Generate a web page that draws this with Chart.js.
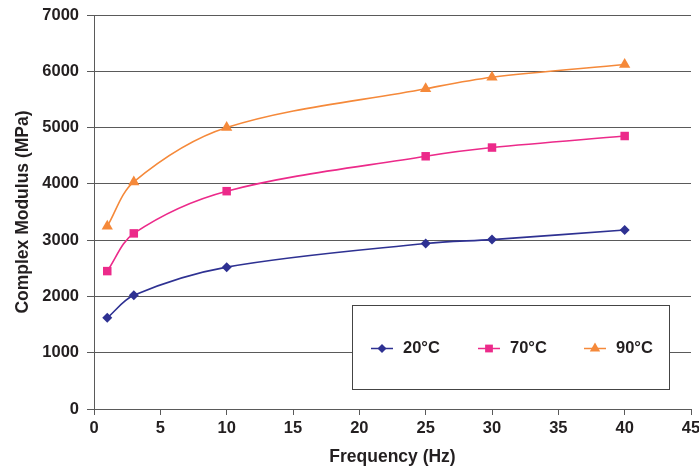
<!DOCTYPE html>
<html>
<head>
<meta charset="utf-8">
<script src="https://cdn.jsdelivr.net/npm/chart.js@4/dist/chart.umd.min.js"></script>
<style>
  html, body { margin: 0; padding: 0; background: #fff; }
  #wrap { width: 699px; height: 469px; }
</style>
</head>
<body>
<div id="wrap"><canvas id="c" width="699" height="469"></canvas></div>
<script>
// ---- data ----
const frequencies = [1, 3, 10, 25, 30, 40];
const modulus20 = [1620, 2020, 2520, 2940, 3010, 3180];
const modulus70 = [2450, 3120, 3870, 4490, 4645, 4850];
const modulus90 = [3245, 4035, 5000, 5690, 5895, 6120];
const seriesLabels = ['20°C', '70°C', '90°C'];
const xTicks = [0, 5, 10, 15, 20, 25, 30, 35, 40, 45];
const yTicks = [0, 1000, 2000, 3000, 4000, 5000, 6000, 7000];

const colors = ['#2e3192', '#ec2a8a', '#f5893a'];
const shapes = ['rectRot', 'rect', 'triangle'];
const radii = [5, 6, 6.5];
const FONT = '"Liberation Sans", Arial, Helvetica, sans-serif';
const TEXT = '#231f20';
const GRID = '#5a5a5a';

function pts(ys) { return frequencies.map((f, i) => ({ x: f, y: ys[i] })); }
const allSeries = [modulus20, modulus70, modulus90];

const datasets = allSeries.map((ys, i) => ({
  label: seriesLabels[i],
  data: pts(ys),
  borderColor: colors[i],
  backgroundColor: colors[i],
  borderWidth: 1.6,
  pointStyle: shapes[i],
  pointRadius: radii[i],
  pointHoverRadius: radii[i],
  pointBorderWidth: 0,
  tension: 0.33,
  fill: false
}));

const boxLegend = {
  id: 'boxLegend',
  afterDraw(chart) {
    const ctx = chart.ctx;
    const bx = 352.5, by = 305.5, bw = 317, bh = 84;
    ctx.save();
    ctx.fillStyle = '#fff';
    ctx.fillRect(bx, by, bw, bh);
    ctx.strokeStyle = '#444';
    ctx.lineWidth = 1;
    ctx.strokeRect(bx, by, bw, bh);
    const cy = by + bh / 2 + 1;
    const markerX = [382, 489, 595];
    chart.data.datasets.forEach((ds, i) => {
      const mx = markerX[i];
      ctx.strokeStyle = ds.borderColor;
      ctx.lineWidth = 1.5;
      ctx.beginPath();
      ctx.moveTo(mx - 11, cy);
      ctx.lineTo(mx + 11, cy);
      ctx.stroke();
      ctx.fillStyle = ds.backgroundColor;
      ctx.strokeStyle = ds.borderColor;
      Chart.helpers.drawPoint(ctx, { pointStyle: ds.pointStyle, radius: ds.pointRadius - 0.5, borderWidth: 0, rotation: 0 }, mx, cy);
      ctx.fillStyle = TEXT;
      ctx.font = 'bold 16.5px ' + FONT;
      ctx.textAlign = 'left';
      ctx.textBaseline = 'middle';
      ctx.fillText(ds.label, mx + 21, cy);
    });
    ctx.restore();
  }
};

new Chart(document.getElementById('c'), {
  type: 'line',
  data: { datasets },
  options: {
    responsive: false,
    animation: false,
    devicePixelRatio: 1,
    layout: { padding: { top: 15, right: 8, bottom: 0, left: 0 } },
    plugins: { legend: { display: false }, tooltip: { enabled: false } },
    scales: {
      x: {
        type: 'linear',
        min: 0, max: 45,
        afterBuildTicks(s) { s.ticks = xTicks.map(v => ({ value: v })); },
        afterFit(s) { s.height = 60; s.paddingLeft = 0; s.paddingRight = 0; },
        grid: { drawOnChartArea: false, drawTicks: true, tickLength: 6, color: GRID },
        border: { color: GRID, width: 1 },
        ticks: { color: TEXT, padding: 4, maxRotation: 0, font: { family: FONT, size: 16.5, weight: 'bold' }, callback: v => String(v) },
        title: { display: true, text: 'Frequency (Hz)', color: TEXT, padding: { top: 0, bottom: 1 }, font: { family: FONT, size: 17.5, weight: 'bold' } }
      },
      y: {
        min: 0, max: 7000,
        afterBuildTicks(s) { s.ticks = yTicks.map(v => ({ value: v })); },
        afterFit(s) { s.width = 94; s.paddingTop = 0; s.paddingBottom = 0; },
        grid: { color: GRID, lineWidth: 1, tickLength: 7, drawTicks: true },
        border: { color: GRID, width: 1 },
        ticks: { color: TEXT, padding: 8, font: { family: FONT, size: 16.5, weight: 'bold' }, callback: v => String(v) },
        title: { display: true, text: 'Complex Modulus (MPa)', color: TEXT, padding: { top: 13, bottom: 0 }, font: { family: FONT, size: 17.5, weight: 'bold' } }
      }
    }
  },
  plugins: [boxLegend]
});
</script>
</body>
</html>
